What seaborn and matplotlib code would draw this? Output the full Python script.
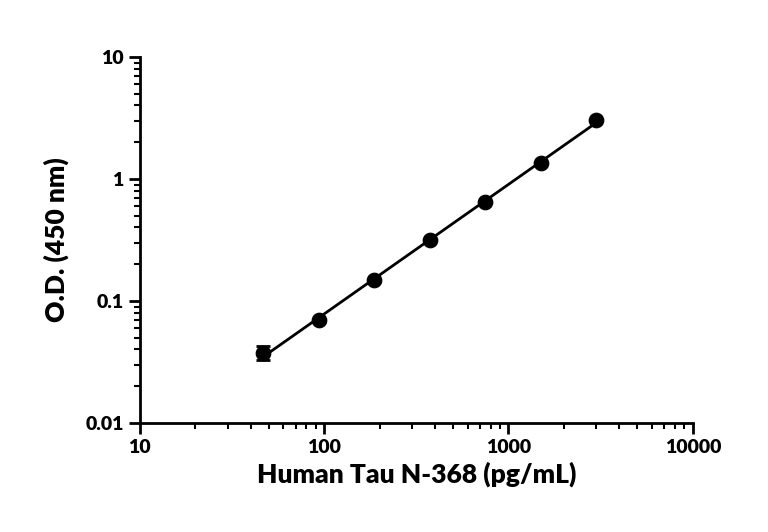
import numpy as np
import matplotlib
matplotlib.use("Agg")
import matplotlib.pyplot as plt
import seaborn as sns

conc = [46.875, 93.75, 187.5, 375, 750, 1500, 3000]
od = [0.0375, 0.0697, 0.148, 0.318, 0.645, 1.36, 3.05]
od_err = [0.005, 0.002, 0.004, 0.006, 0.01, 0.02, 0.03]

sns.set_style("ticks")
plt.rcParams["font.family"] = ["Lato", "DejaVu Sans"]
plt.rcParams["font.weight"] = "heavy"
for k in ["text.color", "axes.labelcolor", "xtick.color", "ytick.color", "axes.edgecolor"]:
    plt.rcParams[k] = "black"

fig, ax = plt.subplots(figsize=(7.68, 5.32), dpi=100)
fig.subplots_adjust(left=0.182, right=0.902, top=0.893, bottom=0.205)

# power-law fit through the points
lx, ly = np.log10(conc), np.log10(od)
b, a = np.polyfit(lx, ly, 1)
xf = np.array([conc[0], conc[-1]])
sns.lineplot(x=xf, y=10 ** (a + b * np.log10(xf)), color="black", lw=2, ax=ax)
ax.errorbar(conc, od, yerr=od_err, fmt="none", ecolor="black", elinewidth=2, capsize=5, capthick=2)
sns.scatterplot(x=conc, y=od, color="black", s=110, edgecolor="black", zorder=3, ax=ax)

ax.set_xscale("log")
ax.set_yscale("log")
ax.set_xlim(10, 10000)
ax.set_ylim(0.01, 10)
ax.set_xticks([10, 100, 1000, 10000])
ax.set_xticklabels(["10", "100", "1000", "10000"])
ax.set_yticks([0.01, 0.1, 1, 10])
ax.set_yticklabels(["0.01", "0.1", "1", "10"])
ax.minorticks_on()
ax.tick_params(which="major", length=8, width=2, labelsize=14)
ax.tick_params(which="minor", length=4, width=1.5)
for lab in ax.get_xticklabels() + ax.get_yticklabels():
    lab.set_fontweight("heavy")
sns.despine(ax=ax)
for s in ["left", "bottom"]:
    ax.spines[s].set_linewidth(2)

ax.set_xlabel("Human Tau N-368 (pg/mL)", fontsize=19, fontweight="heavy")
ax.set_ylabel("O.D. (450 nm)", fontsize=19, fontweight="heavy", labelpad=12)

fig.savefig("out.png", dpi=100)
